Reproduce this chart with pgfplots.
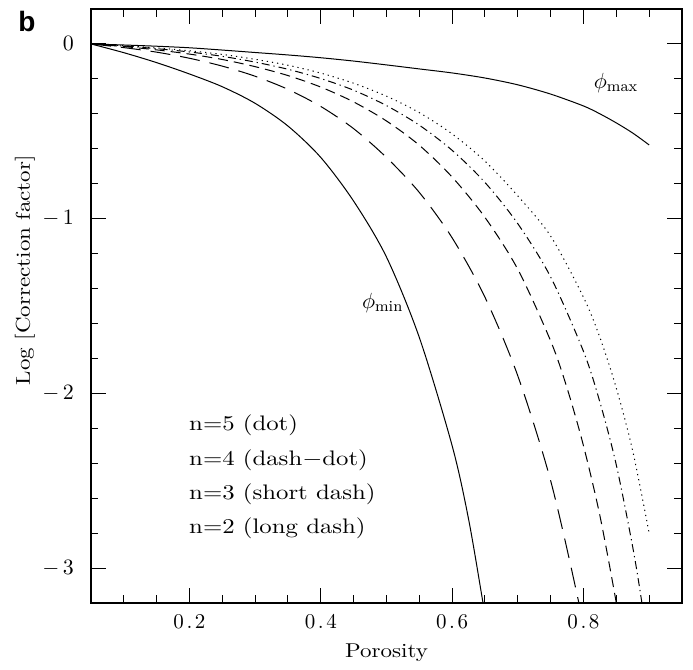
\documentclass[border=0pt]{standalone}
\usepackage{fontspec}
\usepackage{graphicx}
\usepackage{pgfplots}
\pgfplotsset{compat=1.18}
\newfontfamily\bsans{Liberation Sans}
\newcommand{\wide}[1]{\scalebox{1.18}[1]{#1}}
\newcommand{\xt}[1]{\scalebox{1.12}[1]{#1}}
\begin{document}
\begin{tikzpicture}
\path[use as bounding box] (-45.5pt,-33.5pt) rectangle (301pt,301.5pt);
\begin{axis}[
  at={(0pt,0pt)}, anchor=south west,
  scale only axis, width=295.5pt, height=297pt,
  xmin=0.05, xmax=0.95, ymin=-3.2, ymax=0.2,
  axis line style={line width=0.9pt},
  xtick={0.2,0.4,0.6,0.8},
  xticklabels={0\kern1.3pt.\kern1.3pt2,0\kern1.3pt.\kern1.3pt4,0\kern1.3pt.\kern1.3pt6,0\kern1.3pt.\kern1.3pt8},
  ytick={0,-1,-2,-3},
  yticklabels={$0$,$-\,1$,$-\,2$,$-\,3$},
  minor xtick={0.1,0.15,0.25,0.3,0.35,0.45,0.5,0.55,0.65,0.7,0.75,0.85,0.9},
  minor ytick={-0.2,-0.4,-0.6,-0.8,-1.2,-1.4,-1.6,-1.8,-2.2,-2.4,-2.6,-2.8,-3.2},
  tick align=inside, major tick length=7.5pt, minor tick length=3.75pt,
  every tick/.style={black, line width=0.5pt},
  xtick pos=both, ytick pos=both,
  yticklabel style={font=\fontsize{10.5}{12}\selectfont, xshift=-5pt},
  xticklabel style={font=\fontsize{10.5}{12}\selectfont, yshift=-2pt},
  label style={font=\fontsize{10.5}{12}\selectfont},
  xlabel={\scalebox{1.15}[1]{Porosity}}, ylabel={\scalebox{1.15}[1]{Log [Correction factor]}},
  every axis x label/.style={at={(axis description cs:0.5,-0.083)}, anchor=center},
  every axis y label/.style={at={(axis description cs:-0.112,0.56)}, anchor=center, rotate=90},
]
% phi_min (solid)
\addplot[black, line width=0.5pt, smooth] coordinates {
(0.05,0) (0.10,-0.05) (0.15,-0.107) (0.20,-0.172) (0.25,-0.245) (0.30,-0.34)
(0.35,-0.47) (0.40,-0.65) (0.45,-0.90) (0.50,-1.22) (0.55,-1.68) (0.60,-2.30)
(0.625,-2.72) (0.647,-3.2) (0.66,-3.5)};
% phi_max (solid)
\addplot[black, line width=0.5pt, smooth] coordinates {
(0.05,0) (0.10,-0.006) (0.15,-0.013) (0.20,-0.022) (0.25,-0.035) (0.30,-0.049)
(0.35,-0.063) (0.40,-0.079) (0.45,-0.098) (0.50,-0.120) (0.55,-0.143) (0.60,-0.166)
(0.65,-0.195) (0.70,-0.234) (0.75,-0.287) (0.80,-0.355) (0.825,-0.40) (0.85,-0.452)
(0.875,-0.51) (0.90,-0.578)};
% n=2 long dash
\addplot[black, line width=0.5pt, smooth, dash pattern=on 10pt off 5pt] coordinates {
(0.05,0) (0.10,-0.021) (0.15,-0.047) (0.20,-0.082) (0.25,-0.127) (0.30,-0.185)
(0.35,-0.26) (0.40,-0.358) (0.45,-0.485) (0.50,-0.65) (0.55,-0.85) (0.60,-1.11)
(0.65,-1.45) (0.70,-1.90) (0.75,-2.50) (0.793,-3.2) (0.81,-3.55)};
% n=3 short dash
\addplot[black, line width=0.5pt, smooth, dash pattern=on 5pt off 3pt] coordinates {
(0.05,0) (0.10,-0.015) (0.15,-0.034) (0.20,-0.058) (0.25,-0.089) (0.30,-0.130)
(0.35,-0.181) (0.40,-0.247) (0.45,-0.332) (0.50,-0.441) (0.55,-0.58) (0.60,-0.762)
(0.65,-0.993) (0.70,-1.29) (0.75,-1.70) (0.775,-1.97) (0.80,-2.30) (0.825,-2.70)
(0.85,-3.2) (0.86,-3.45)};
% n=4 dash-dot
\addplot[black, line width=0.5pt, smooth, dash pattern=on 4pt off 2pt on 0.6pt off 2pt] coordinates {
(0.05,0) (0.10,-0.012) (0.15,-0.027) (0.20,-0.046) (0.25,-0.071) (0.30,-0.104)
(0.35,-0.145) (0.40,-0.198) (0.45,-0.265) (0.50,-0.353) (0.55,-0.465) (0.60,-0.609)
(0.65,-0.793) (0.70,-1.029) (0.75,-1.334) (0.80,-1.76) (0.825,-2.05) (0.85,-2.41)
(0.875,-2.88) (0.889,-3.2) (0.90,-3.5)};
% n=5 dotted
\addplot[black, line width=0.5pt, smooth, dash pattern=on 0.6pt off 2pt] coordinates {
(0.05,0) (0.10,-0.010) (0.15,-0.023) (0.20,-0.039) (0.25,-0.060) (0.30,-0.088)
(0.35,-0.122) (0.40,-0.167) (0.45,-0.225) (0.50,-0.299) (0.55,-0.393) (0.60,-0.515)
(0.65,-0.671) (0.70,-0.87) (0.75,-1.10) (0.80,-1.45) (0.825,-1.68) (0.85,-1.97)
(0.875,-2.33) (0.90,-2.80)};
\node[anchor=base west, font=\fontsize{11}{12}\selectfont] at (axis cs:0.805,-0.256) {$\phi_{\rm max}$};
\node[anchor=base west, font=\fontsize{11}{12}\selectfont] at (axis cs:0.452,-1.513) {$\phi_{\rm min}$};
\node[anchor=base west, inner sep=0pt, font=\fontsize{10.5}{12}\selectfont] at (axis cs:0.199,-2.213) {\wide{n=5 (dot)}};
\node[anchor=base west, inner sep=0pt, font=\fontsize{10.5}{12}\selectfont] at (axis cs:0.199,-2.413) {\wide{n=4 (dash$-$dot)}};
\node[anchor=base west, inner sep=0pt, font=\fontsize{10.5}{12}\selectfont] at (axis cs:0.199,-2.608) {\wide{n=3 (short dash)}};
\node[anchor=base west, inner sep=0pt, font=\fontsize{10.5}{12}\selectfont] at (axis cs:0.199,-2.803) {\wide{n=2 (long dash)}};
\end{axis}
\node[font=\bsans\bfseries\fontsize{14}{16}\selectfont] at (-32pt,291pt) {b};
\end{tikzpicture}
\end{document}
